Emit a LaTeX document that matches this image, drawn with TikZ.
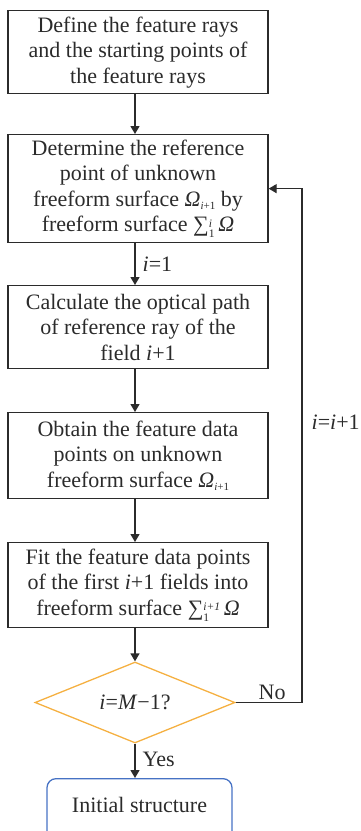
\documentclass[tikz,border=0pt]{standalone}
\usepackage{fontspec}
\setmainfont{Liberation Serif}
\usetikzlibrary{shapes.geometric,arrows.meta}
\definecolor{ink}{rgb}{0.17,0.17,0.17}
\definecolor{dorange}{RGB}{245,176,65}
\definecolor{sblue}{RGB}{70,114,196}
\newcommand\myOm{\textit{Ω}}
\newcommand\mysub[1]{\raisebox{-0.35ex}{\fontsize{11}{11}\selectfont #1}}
\newcommand\mysum[2]{∑\raisebox{-0.6ex}{\shortstack[l]{\fontsize{11.5}{9.5}\selectfont\textit{#2}\\\fontsize{11.5}{9.5}\selectfont #1}}\,}
\begin{document}
\begin{tikzpicture}[x=1pt,y=-1pt,
  txt/.style={font=\fontsize{22}{25.5}\selectfont, text=ink},
  box/.style={txt, draw=ink, line width=1.3pt, minimum width=260pt, align=center, inner sep=1pt, anchor=north},
  conn/.style={draw=ink, line width=1.3pt, -{Triangle[length=8pt,width=9pt]}},
  lbl/.style={txt, inner sep=1pt}]
\useasboundingbox (0,0) rectangle (361,831);
\clip (0,0) rectangle (361,831);
\coordinate (ax) at (135,0);
\node[box, minimum height=83pt] (b1) at (138,10) {Define the feature rays\\and the starting points of\\the feature rays};
\node[box, minimum height=108pt] (b2) at (138,134) {Determine the reference\\point of unknown\\freeform surface \myOm\mysub{\textit{i}+1} by\\freeform surface \mysum{1}{i}\myOm};
\node[box, minimum height=83pt] (b3) at (138,285) {Calculate the optical path\\of reference ray of the\\field \textit{i}+1};
\node[box, minimum height=86pt] (b4) at (138,412) {Obtain the feature data\\points on unknown\\freeform surface \myOm\mysub{\textit{i}+1}};
\node[box, minimum height=85pt] (b5) at (138,542) {Fit the feature data points\\of the first \textit{i}+1 fields into\\freeform surface \mysum{1}{i+1}\myOm};
\node[txt, diamond, draw=dorange, line width=1.3pt, minimum width=200pt, minimum height=81pt, inner sep=0pt, aspect=2.47] (d) at (135,702.5) {\textit{i}=\textit{M}−1?};
\node[txt, draw=sblue, line width=1.3pt, rounded corners=9pt, minimum width=185pt, minimum height=62pt, anchor=north] (e) at (139.5,778) {};
\node[txt] at (139.5,805) {Initial structure};
\coordinate (lp) at (302,0);
\draw[conn] (b1.south -| ax) -- (b2.north -| ax);
\draw[conn] (b2.south -| ax) -- node[lbl, right=6pt, pos=0.5] {\textit{i}=1} (b3.north -| ax);
\draw[conn] (b3.south -| ax) -- (b4.north -| ax);
\draw[conn] (b4.south -| ax) -- (b5.north -| ax);
\draw[conn] (b5.south -| ax) -- (d.north);
\draw[conn] (d.south) -- node[lbl, right=6pt, pos=0.45] {Yes} (e.north -| d.south);
\draw[conn] (d.east) -- node[lbl, above=1pt, pos=0.55] {No} (d.east -| lp) -- node[lbl, right=8pt, pos=0.545] {\textit{i}=\textit{i}+1} (b2.east -| lp) -- (b2.east);
\end{tikzpicture}
\end{document}
